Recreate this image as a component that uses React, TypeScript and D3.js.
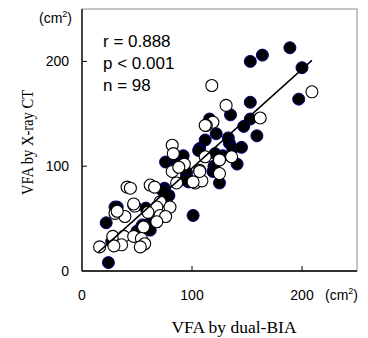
import React from "react";
import * as d3 from "d3";

// filled circles (dual-BIA, X-ray CT) in cm2
const filledPts: [number, number][] = [
  [153, 200], [164, 206], [189, 213], [200, 194], [197, 164], [153, 161],
  [135, 149], [153, 145], [147, 138], [159, 129], [133, 127], [134, 122],
  [137, 117], [122, 131], [116, 145], [107, 117], [92, 110], [121, 112],
  [141, 102], [119, 95], [125, 84], [95, 90], [97, 85], [101, 53],
  [76, 104], [84, 106], [95, 94], [94, 87], [106, 115], [75, 79],
  [76, 69], [73, 77], [32, 61], [47, 63], [58, 60], [61, 45],
  [54, 42], [62, 39], [22, 46], [24, 8], [27, 28], [30, 61],
  [55, 44], [128, 110], [88, 102], [112, 125], [79, 72], [50, 38],
  [145, 118], [120, 100],
];

// open circles
const openPts: [number, number][] = [
  [118, 177], [131, 158], [209, 171], [162, 146], [119, 142], [113, 139],
  [112, 139], [93, 102], [112, 109], [125, 106], [136, 109], [125, 93],
  [107, 96], [103, 84], [109, 86], [82, 120], [83, 112], [82, 95],
  [88, 99], [101, 85], [107, 95], [86, 84], [41, 80], [44, 79],
  [62, 82], [66, 80], [71, 66], [68, 61], [80, 61], [71, 53],
  [76, 52], [48, 62], [30, 55], [39, 52], [60, 56], [56, 42],
  [28, 33], [38, 33], [47, 33], [54, 31], [57, 26], [53, 23],
  [36, 25], [29, 24], [16, 23], [47, 64], [32, 57], [68, 47],
];

const regLine: [number, number][] = [[15, 18], [209, 201]];
const xTicks = [0, 100, 200];
const yTicks = [0, 100, 200];
const stats = ["r = 0.888", "p < 0.001", "n = 98"];

const W = 368, H = 338;
const m = { top: 9, right: 11, bottom: 67, left: 82 };

export default function App() {
  const x = d3.scaleLinear().domain([0, 250]).range([m.left, W - m.right]);
  const y = d3.scaleLinear().domain([0, 250]).range([H - m.bottom, m.top]);
  const line = d3.line<[number, number]>().x(d => x(d[0])).y(d => y(d[1]));
  const sans = "Arial, 'Liberation Sans', sans-serif";
  const serif = "'Times New Roman', 'Liberation Serif', serif";

  return (
    <svg width={W} height={H} style={{ position: "absolute", left: 0, top: 0 }}>
      <rect x={m.left} y={m.top} width={W - m.left - m.right} height={H - m.top - m.bottom}
        fill="none" stroke="#888" strokeWidth={1} />
      <line x1={x(0)} x2={x(250)} y1={y(0)} y2={y(0)} stroke="#000" strokeWidth={1.3} />
      <line x1={x(0)} x2={x(0)} y1={y(0)} y2={y(250)} stroke="#000" strokeWidth={1.3} />
      {xTicks.slice(1).map(t => (
        <line key={"xt" + t} x1={x(t)} x2={x(t)} y1={y(0)} y2={y(0) - 5} stroke="#000" />
      ))}
      {yTicks.slice(1).map(t => (
        <line key={"yt" + t} x1={x(0)} x2={x(0) + 5} y1={y(t)} y2={y(t)} stroke="#000" />
      ))}
      {xTicks.map(t => (
        <text key={"xl" + t} x={x(t)} y={300} textAnchor="middle" fontFamily={sans} fontSize={14}>{t}</text>
      ))}
      {yTicks.map(t => (
        <text key={"yl" + t} x={69} y={y(t) + 5} textAnchor="end" fontFamily={sans} fontSize={14}>{t}</text>
      ))}
      <text x={325} y={300} fontFamily={sans} fontSize={14}>(cm<tspan dy={-6} fontSize={9}>2</tspan><tspan dy={6}>)</tspan></text>
      <text x={39} y={23} fontFamily={sans} fontSize={14}>(cm<tspan dy={-6} fontSize={9}>2</tspan><tspan dy={6}>)</tspan></text>

      {filledPts.map((d, i) => (
        <circle key={"f" + i} cx={x(d[0])} cy={y(d[1])} r={6} fill="#000" stroke="#000080" strokeWidth={1} />
      ))}
      {openPts.map((d, i) => (
        <circle key={"o" + i} cx={x(d[0])} cy={y(d[1])} r={6} fill="#fff" stroke="#000" strokeWidth={1.1} />
      ))}
      <path d={line(regLine) || ""} stroke="#000" strokeWidth={1.5} fill="none" />

      {stats.map((s, i) => (
        <text key={s} x={103} y={47 + i * 22} fontFamily={sans} fontSize={17}>{s}</text>
      ))}

      <text x={234} y={333} textAnchor="middle" fontFamily={serif} fontSize={17.5}>VFA by dual-BIA</text>
      <text transform={`translate(33, 142.5) rotate(-90)`} textAnchor="middle" fontFamily={serif}
        fontSize={17.5} textLength={105} lengthAdjust="spacingAndGlyphs">VFA by X-ray CT</text>
    </svg>
  );
}
